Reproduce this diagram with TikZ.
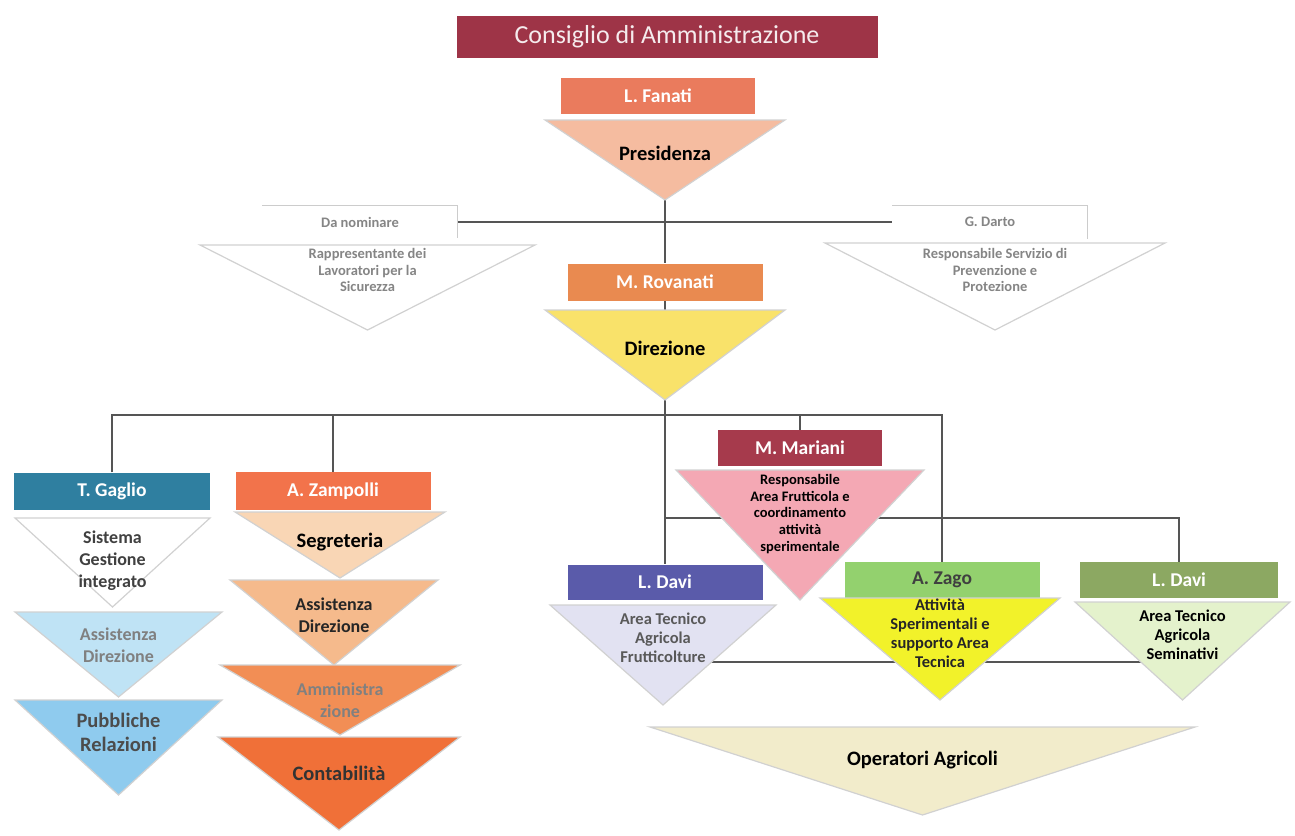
\documentclass[tikz,border=0pt]{standalone}
\usepackage{fontspec}
\setmainfont{Carlito}
\usetikzlibrary{backgrounds}

\definecolor{cdared}{HTML}{9E3447}
\definecolor{fanaticol}{HTML}{EA7B5D}
\definecolor{rovcol}{HTML}{E98A50}
\definecolor{gagliocol}{HTML}{2F7FA0}
\definecolor{zampcol}{HTML}{F2734B}
\definecolor{marcol}{HTML}{A63A4C}
\definecolor{daviAcol}{HTML}{5A5BAA}
\definecolor{zagocol}{HTML}{93D16E}
\definecolor{daviBcol}{HTML}{8CA862}
\definecolor{presfill}{HTML}{F5BCA0}
\definecolor{dirfill}{HTML}{F9E26A}
\definecolor{asAfill}{HTML}{BFE3F5}
\definecolor{prfill}{HTML}{8FCBEE}
\definecolor{segrfill}{HTML}{F9D6B5}
\definecolor{asBfill}{HTML}{F5BA8C}
\definecolor{ammfill}{HTML}{F28E55}
\definecolor{contfill}{HTML}{F07038}
\definecolor{respfill}{HTML}{F4A8B4}
\definecolor{tecAfill}{HTML}{E2E2F2}
\definecolor{attfill}{HTML}{F2F22A}
\definecolor{tecBfill}{HTML}{E4F2CC}
\definecolor{operfill}{HTML}{F2ECCB}
\definecolor{linkgrey}{HTML}{555555}
\definecolor{softgrey}{HTML}{858585}

\tikzset{
  headbox/.style={draw=none, inner sep=0pt},
  boxL/.style={font=\fontsize{19.5}{22}\selectfont\bfseries},
  boxS/.style={font=\fontsize{14.5}{17}\selectfont\bfseries},
  lblL/.style={font=\fontsize{20.5}{24}\selectfont\bfseries},
  lblM/.style={font=\fontsize{18}{22}\selectfont\bfseries},
  lblT/.style={font=\fontsize{16.5}{19}\selectfont\bfseries},
  lblS/.style={font=\fontsize{14.5}{16.8}\selectfont\bfseries},
  tri/.style={draw=black!18, line width=1.2pt},
  link/.style={draw=linkgrey, line width=1.5pt},
}

\begin{document}
\begin{tikzpicture}[x=1pt,y=-1pt]
  \useasboundingbox (0,0) rectangle (1295,835);
  % boxes: name / x / y / width / height / fill / text colour / size / text
  \def \Boxes{
    fanati/658/96/194/36/fanaticol/white/boxL/{L. Fanati},
    danom/360/222/195/32/white/softgrey/boxS/{Da nominare},
    darto/990/222/195/33/white/softgrey/boxS/{G. Darto},
    rovanati/665/282/195/37/rovcol/white/boxL/{M. Rovanati},
    gaglio/112/491/196/37/gagliocol/white/boxL/{T. Gaglio},
    zampolli/333/491/195/38/zampcol/white/boxL/{A. Zampolli},
    mariani/800/448/164/36/marcol/white/boxL/{M. Mariani},
    ldaviA/665/582/195/35/daviAcol/white/boxL/{L. Davi},
    zagobox/942/580/195/36/zagocol/black!75/boxL/{A. Zago},
    ldaviB/1179/580/198/36/daviBcol/white/boxL/{L. Davi}}
  % triangles: name / left / right / top / tip / text y / fill / text colour / size / text
  \def \Tris{
    pres/545/785/120/200/153/presfill/black/lblL/{Presidenza},
    rls/200/535/245/330/270/white/softgrey/lblS/{Rappresentante dei\\Lavoratori per la\\Sicurezza},
    rspp/825/1165/243/330/270/white/softgrey/lblS/{Responsabile Servizio di\\Prevenzione e\\Protezione},
    dir/545/785/310/400/348/dirfill/black/lblL/{Direzione},
    sgi/15/210/518/607/561/white/black!75/lblM/{Sistema\\Gestione\\integrato},
    assA/15/222/612/697/645/asAfill/black!50/lblM/{Assistenza\\Direzione},
    pubrel/15/222/700/795/732/prfill/black!70/lblL/{Pubbliche\\Relazioni},
    segr/235/445/512/578/542/segrfill/black/lblL/{Segreteria},
    assB/230/438/580/665/615/asBfill/black!85/lblM/{Assistenza\\Direzione},
    amm/220/460/665/735/700/ammfill/black!50/lblM/{Amministra\\zione},
    cont/218/460/737/830/773/contfill/black!80/lblL/{Contabilità},
    resp/676/924/470/600/514/respfill/black/lblS/{Responsabile\\Area Frutticola e\\coordinamento\\attività\\sperimentale},
    tecA/550/776/605/705/638/tecAfill/black!65/lblT/{Area Tecnico\\Agricola\\Frutticolture},
    attsp/820/1060/598/700/633/attfill/black!85/lblT/{Attività\\Sperimentali e\\supporto Area\\Tecnica},
    tecB/1075/1290/602/700/635/tecBfill/black/lblT/{Area Tecnico\\Agricola\\Seminativi},
    oper/650/1195/727/815/760/operfill/black/lblL/{Operatori Agricoli}}

  \node[headbox, fill=cdared, minimum width=421, minimum height=42,
        text=cdared!10, font=\fontsize{26}{28}\selectfont] (cda) at (667,37)
        {Consiglio di Amministrazione};
  \foreach \id / \x / \y / \w / \h / \col / \tcol / \sz / \txt in \Boxes{
    \node[headbox, \sz, fill=\col, text=\tcol, minimum width=\w, minimum height=\h] (\id) at (\x,\y) {\txt};
  }
  \draw[black!20, line width=1.2pt] (danom.north west) -- (danom.north east) -- (danom.south east);
  \draw[black!20, line width=1.2pt] (darto.north west) -- (darto.north east) -- (darto.south east);
  \foreach \id / \xl / \xr / \yt / \yb / \ty / \col / \tcol / \sz / \txt in \Tris{
    \path[tri, fill=\col] (\xl,\yt) -- (\xr,\yt) -- ({(\xl+\xr)/2},\yb) -- cycle;
    \coordinate (\id-tip) at ({(\xl+\xr)/2},\yb);
    \node[\sz, align=center, text=\tcol, inner sep=0pt] (\id) at ({(\xl+\xr)/2},\ty) {\txt};
  }

  \coordinate (bus) at (665,415);
  \coordinate (sub) at (665,518);
  \coordinate (low) at (663,662);
  \coordinate (lowend) at (1182,662);
  \begin{scope}[on background layer]
    \path[link] (pres-tip) -- (rovanati.north);
    \path[link] (danom.east) -- (darto.west);
    \path[link] (rovanati.south) -- (dir-tip);
    \path[link] (dir-tip) -- (ldaviA.north);
    \path[link] (gaglio.north) |- (bus) -| (zagobox.north);
    \path[link] (zampolli.north) |- (bus);
    \path[link] (mariani.north) |- (bus);
    \path[link] (sub) -| (ldaviB.north);
    \path[link] (low) -- (lowend);
  \end{scope}
\end{tikzpicture}
\end{document}
